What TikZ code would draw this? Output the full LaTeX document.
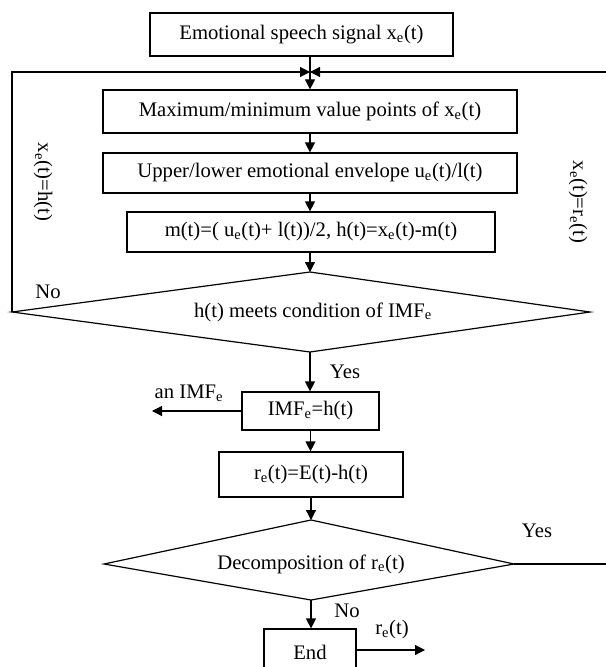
\documentclass[tikz,border=0pt]{standalone}
\usepackage{fontspec}
\setmainfont{Liberation Serif}
\usetikzlibrary{arrows.meta}
\newcommand{\sube}{\textsubscript{e}}
\begin{document}
\begin{tikzpicture}[x=0.75pt,y=-0.75pt,
  txt/.style={font=\fontsize{15.5}{18}\selectfont},
  box/.style={draw, line width=0.9pt, inner sep=0pt, txt},
  lbl/.style={inner sep=0pt, txt},
  line/.style={line width=0.9pt},
  arr/.style={line width=0.9pt, -{Triangle[length=7.5pt,width=7.5pt]}}]
\useasboundingbox (0,0) rectangle (606,667);
\clip (0,0) rectangle (606,667);
\fill[white] (0,0) rectangle (606,667);

% boxes
\node[box, minimum width=227.25pt, minimum height=32.25pt] (top) at (301.5,34.5) {Emotional speech signal x\sube(t)};
\node[box, minimum width=310.5pt, minimum height=32.25pt] (b2) at (310,111.5) {Maximum/minimum value points of x\sube(t)};
\node[box, minimum width=310.5pt, minimum height=30pt] (b3) at (310,173) {Upper/lower emotional envelope u\sube(t)/l(t)};
\node[box, minimum width=276pt, minimum height=30pt] (b4) at (311,232) {m(t)=( u\sube(t)+ l(t))/2, h(t)=x\sube(t)-m(t)};
\node[box, minimum width=102.75pt, minimum height=28.5pt] (imf) at (310.5,411) {IMF\sube=h(t)};
\node[box, minimum width=138pt, minimum height=33.75pt] (re) at (311,474.5) {r\sube(t)=E(t)-h(t)};
\node[box, minimum width=69pt, minimum height=34.5pt] (end) at (310,652) {End};

% diamonds
\coordinate (d1l) at (12,312);
\coordinate (d1t) at (310,272);
\coordinate (d1r) at (590,312);
\coordinate (d1b) at (310,352);
\draw[line] (d1l) -- (d1t) -- (d1r) -- (d1b) -- cycle;
\node[lbl] (d1) at (313,312) {h(t) meets condition of IMF\sube};

\coordinate (d2l) at (104,564);
\coordinate (d2t) at (311,520);
\coordinate (d2r) at (514,564);
\coordinate (d2b) at (311,600);
\draw[line] (d2l) -- (d2t) -- (d2r) -- (d2b) -- cycle;
\node[lbl] (d2) at (311,564) {Decomposition of r\sube(t)};

% junction and loop corners
\coordinate (J) at (310,72);
\coordinate (JL) at (12,72);
\coordinate (RB) at (612,564);
\coordinate (RT) at (612,72);
\coordinate (imfout) at (152,411);
\coordinate (endout) at (425,650);

% connectors
\draw[arr] (b2.north |- top.south) -- (b2.north);
\draw[arr] (b2) -- (b3);
\draw[arr] (b3.south) -- (b3.south |- b4.north);
\draw[arr] (b4.south -| d1t) -- (d1t);
\draw[arr] (d1b) -- (imf.north -| d1b);
\draw[arr] (imf.south) -- (imf.south |- re.north);
\draw[arr] (re.south -| d2t) -- (d2t);
\draw[arr] (d2b) -- (end.north -| d2b);
\draw[arr] (imf.west) -- (imfout);
\draw[arr] (end.east |- endout) -- (endout);
\draw[arr] (d1l) -- (JL) -- (J);
\draw[arr] (d2r) -- (RB) -- (RT) -- (J);

% labels
\node[lbl] (no1) at (48,292) {No};
\node[lbl] (yes1) at (345,372) {Yes};
\node[lbl] (anImf) at (189,393) {an IMF\sube};
\node[lbl] (yes2) at (537,531) {Yes};
\node[lbl] (no2) at (347,611) {No};
\node[lbl] (rout) at (392,630) {r\sube(t)};
\node[lbl, rotate=-90] (lloop) at (43,182) {x\sube(t)=h(t)};
\node[lbl, rotate=-90] (rloop) at (578,202) {x\sube(t)=r\sube(t)};
\end{tikzpicture}
\end{document}
